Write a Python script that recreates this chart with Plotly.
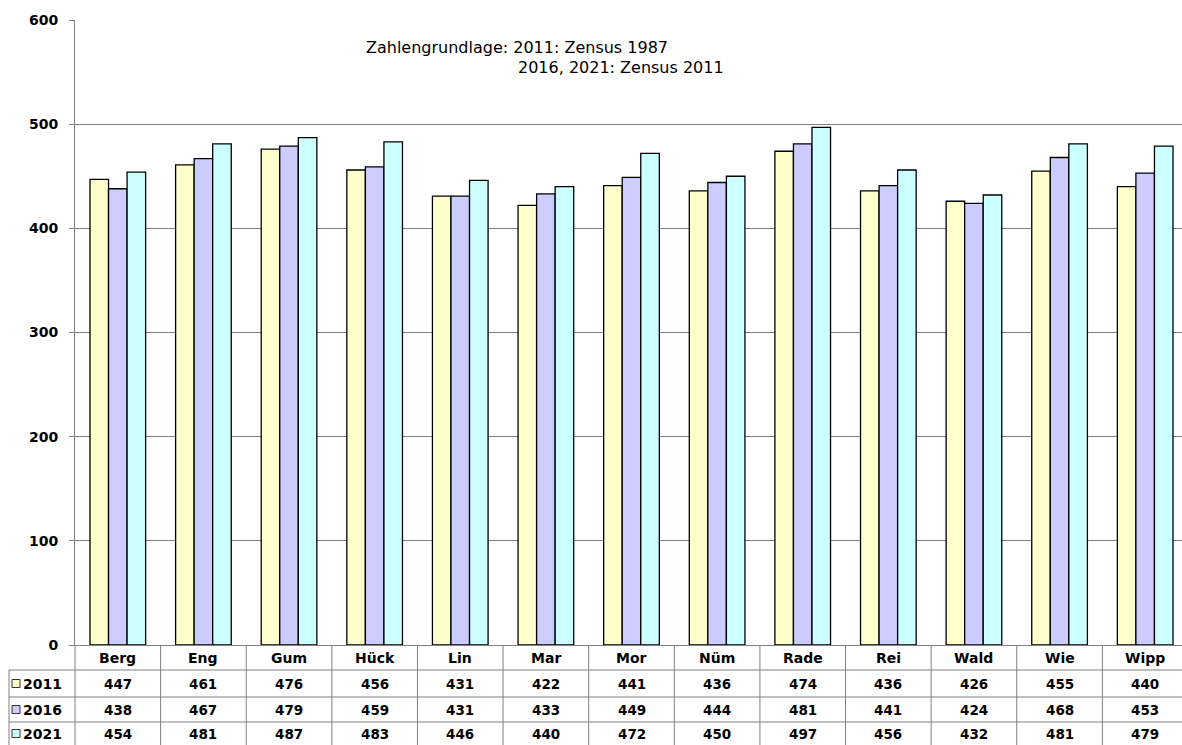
import plotly.graph_objects as go

categories = ["Berg", "Eng", "Gum", "Hück", "Lin", "Mar", "Mor", "Nüm", "Rade", "Rei", "Wald", "Wie", "Wipp"]
series_names = ["2011", "2016", "2021"]
v2011 = [447, 461, 476, 456, 431, 422, 441, 436, 474, 436, 426, 455, 440]
v2016 = [438, 467, 479, 459, 431, 433, 449, 444, 481, 441, 424, 468, 453]
v2021 = [454, 481, 487, 483, 446, 440, 472, 450, 497, 456, 432, 481, 479]
colors = ["#FFFFCC", "#CCCCFF", "#CCFFFF"]
y_ticks = [0, 100, 200, 300, 400, 500, 600]
note_line1 = "Zahlengrundlage: 2011: Zensus 1987"
note_line2 = "2016, 2021: Zensus 2011"

W, H = 1182, 745
ML, MR, MT, MB = 75, 0, 20, 100
PW, PH = W - ML - MR, H - MT - MB
XR = [-0.5, 12.43]

def px_x(p):
    return (p - ML) / PW

def px_y(p):
    return (MT + PH - p) / PH

def cat_x(c):
    return (c - XR[0]) / (XR[1] - XR[0])

FONT = "DejaVu Sans"
GRID = "#808080"

fig = go.Figure()
all_vals = [v2011, v2016, v2021]
for name, vals, col in zip(series_names, all_vals, colors):
    fig.add_trace(go.Bar(
        x=categories, y=vals, name=name,
        marker=dict(color=col, line=dict(color="#000000", width=1.3)),
        showlegend=False,
    ))

shapes = []
annotations = []

# note
annotations.append(dict(xref="paper", yref="paper", x=px_x(364), y=px_y(47), text=note_line1,
                        showarrow=False, xanchor="left", yanchor="middle",
                        font=dict(family=FONT, size=16, color="#000")))
annotations.append(dict(xref="paper", yref="paper", x=px_x(516), y=px_y(68), text=note_line2,
                        showarrow=False, xanchor="left", yanchor="middle",
                        font=dict(family=FONT, size=16, color="#000")))

# table geometry (pixel rows)
row_lines = [670, 697, 722]
row_centers = [657.5, 683.5, 709.5, 733.5]
line_style = dict(color=GRID, width=1)

# vertical separators at category boundaries
for i in range(len(categories) + 1):
    xp = cat_x(i - 0.5)
    if xp > 1:
        continue
    shapes.append(dict(type="line", xref="paper", yref="paper", x0=xp, x1=xp,
                       y0=px_y(645), y1=px_y(745), line=line_style))
# left border of legend column
shapes.append(dict(type="line", xref="paper", yref="paper", x0=px_x(9), x1=px_x(9),
                   y0=px_y(670), y1=px_y(745), line=line_style))
# horizontal row lines
for ry in row_lines:
    shapes.append(dict(type="line", xref="paper", yref="paper", x0=px_x(9), x1=1,
                       y0=px_y(ry), y1=px_y(ry), line=line_style))

# category header
for c in categories:
    annotations.append(dict(xref="x", yref="paper", x=c, y=px_y(row_centers[0]), text=c,
                            showarrow=False, xanchor="center", yanchor="middle",
                            font=dict(family=FONT, size=14, color="#000", weight="bold")))
# value rows
for r, (name, vals, col) in enumerate(zip(series_names, all_vals, colors)):
    yc = row_centers[r + 1]
    for c, v in zip(categories, vals):
        annotations.append(dict(xref="x", yref="paper", x=c, y=px_y(yc), text=str(v),
                                showarrow=False, xanchor="center", yanchor="middle",
                                font=dict(family=FONT, size=13.5, color="#000", weight="bold")))
    # legend key
    shapes.append(dict(type="rect", xref="paper", yref="paper",
                       x0=px_x(12), x1=px_x(20), y0=px_y(yc + 4), y1=px_y(yc - 4),
                       fillcolor=col, line=dict(color="#333333", width=1)))
    annotations.append(dict(xref="paper", yref="paper", x=px_x(21), y=px_y(yc), text=name,
                            showarrow=False, xanchor="left", yanchor="middle",
                            font=dict(family=FONT, size=14, color="#000", weight="bold")))

fig.update_layout(
    width=W, height=H,
    margin=dict(l=ML, r=MR, t=MT, b=MB, autoexpand=False),
    paper_bgcolor="white", plot_bgcolor="white",
    barmode="group", bargap=0.35, bargroupgap=0,
    shapes=shapes, annotations=annotations,
    xaxis=dict(range=XR, showticklabels=False, ticks="", showgrid=False,
               showline=True, linecolor=GRID, linewidth=1, zeroline=False),
    yaxis=dict(range=[0, 600], tickvals=y_ticks, ticks="outside", ticklen=5, tickcolor=GRID,
               showgrid=True, gridcolor=GRID, gridwidth=1, showline=True, linecolor=GRID,
               linewidth=1, zeroline=False, ticklabelstandoff=8,
               tickfont=dict(family=FONT, size=14, color="#000", weight="bold")),
)

fig.write_html("out.html", config={"displayModeBar": False},
               post_script="document.body.style.margin='0';document.body.style.overflow='hidden';")
